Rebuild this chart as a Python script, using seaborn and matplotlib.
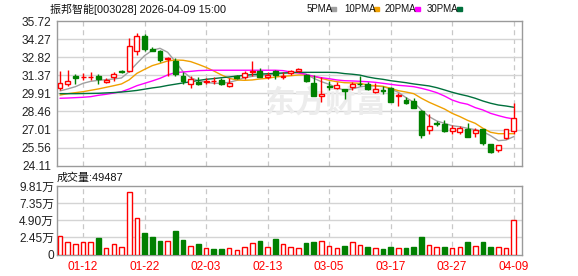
import numpy as np
import pandas as pd
import matplotlib
matplotlib.use("Agg")
import matplotlib.pyplot as plt
import seaborn as sns
from matplotlib.patches import Rectangle

sns.set_style("white")
plt.rcParams["font.family"] = ["Liberation Sans", "Noto Sans CJK SC", "DejaVu Sans"]

# ---------------- data ----------------
title = "振邦智能[003028] 2026-04-09 15:00"
vol_title = "成交量:49487"
date_ticks = [3, 11, 19, 27, 35, 43, 51, 59]
date_labels = ["01-12", "01-22", "02-03", "02-13", "03-05", "03-17", "03-27", "04-09"]
price_ticks = [35.72, 34.27, 32.82, 31.37, 29.91, 28.46, 27.01, 25.56, 24.11]
vol_ticks = [0, 2.45, 4.90, 7.35, 9.81]
vol_tick_labels = ["0", "2.45万", "4.90万", "7.35万", "9.81万"]

opens = [30.37, 30.69, 31.31, 31.22, 31.24, 31.31, 30.85, 31.23, 31.67, 31.74,
         33.29, 34.52, 33.50, 33.31, 32.65, 32.51, 31.31, 30.69, 30.83, 30.85,
         30.90, 30.96, 30.53, 31.28, 31.20, 31.60, 31.71, 31.20, 31.68, 31.23,
         31.55, 31.74, 31.36, 30.75, 29.68, 30.53, 30.35, 30.24, 30.43, 30.69,
         30.64, 30.05, 30.21, 30.35, 29.70, 29.36, 29.28, 28.47, 26.96, 27.52,
         27.44, 26.92, 26.84, 27.03, 26.76, 27.03, 25.83, 25.35, 26.31, 26.86]
closes = [30.77, 30.88, 31.12, 31.24, 31.26, 31.09, 30.96, 31.50, 31.65, 33.71,
          34.49, 33.47, 33.34, 32.62, 32.75, 31.44, 30.91, 31.04, 30.64, 30.93,
          30.90, 30.69, 30.77, 31.17, 31.55, 31.71, 31.25, 31.39, 31.36, 31.31,
          31.73, 31.84, 30.88, 29.73, 29.86, 30.43, 30.59, 30.10, 30.64, 30.66,
          30.27, 30.30, 30.13, 29.25, 29.81, 29.17, 28.77, 26.55, 27.31, 27.42,
          26.86, 27.13, 27.17, 26.44, 26.96, 25.96, 25.24, 25.75, 27.03, 27.91]
highs = [31.71, 31.76, 31.44, 31.58, 31.61, 31.44, 31.17, 31.61, 31.80, 34.33,
         34.76, 34.68, 33.66, 33.42, 32.86, 32.73, 31.66, 31.31, 31.23, 31.17,
         31.23, 31.15, 31.17, 31.39, 31.74, 32.51, 31.95, 31.63, 31.79, 31.61,
         31.79, 31.92, 31.44, 31.39, 31.20, 30.93, 30.85, 30.29, 30.85, 31.33,
         30.85, 30.77, 30.48, 30.43, 29.94, 29.62, 29.57, 28.56, 28.26, 27.68,
         27.79, 27.38, 27.30, 27.56, 27.11, 27.08, 25.88, 25.81, 27.06, 29.14]
lows = [30.19, 30.51, 30.67, 30.99, 30.96, 30.64, 30.77, 30.93, 31.53, 31.66,
        32.99, 33.34, 33.31, 32.43, 31.33, 31.33, 30.64, 30.37, 30.59, 30.67,
        30.69, 30.59, 30.45, 31.04, 31.09, 31.31, 31.20, 31.07, 31.07, 31.07,
        31.39, 31.66, 30.83, 29.70, 29.20, 30.19, 30.27, 29.44, 30.16, 30.53,
        30.16, 29.94, 29.89, 29.23, 28.93, 29.07, 28.72, 26.31, 26.68, 27.28,
        26.81, 26.63, 26.68, 26.41, 26.44, 25.75, 25.16, 25.22, 26.25, 26.63]

# volume in 万 (10k) units, and its colour (True = red/up)
volumes = [2.71, 1.76, 1.47, 1.76, 1.76, 2.33, 0.86, 1.57, 1.14, 8.99,
           5.28, 3.04, 2.47, 1.90, 1.90, 3.33, 2.05, 1.28, 1.47, 1.00,
           0.76, 0.76, 0.86, 0.62, 1.14, 1.71, 1.90, 1.05, 2.19, 1.47,
           1.14, 0.86, 1.62, 1.76, 2.00, 1.28, 1.00, 1.19, 1.76, 1.43,
           1.05, 0.86, 0.76, 1.05, 0.86, 0.90, 1.05, 2.47, 1.43, 1.05,
           1.05, 0.86, 1.14, 1.76, 1.28, 1.76, 1.05, 1.05, 0.86, 4.95]
vol_up = [1, 1, 1, 1, 1, 0, 1, 1, 1, 1, 1, 0, 0, 0, 1, 0, 0, 1, 0, 1,
          0, 0, 1, 1, 1, 1, 0, 1, 0, 1, 1, 1, 0, 0, 1, 1, 1, 0, 1, 1,
          0, 1, 0, 0, 1, 0, 0, 0, 1, 1, 0, 1, 1, 0, 1, 0, 0, 1, 1, 1]

ma5 = [30.11, 30.27, 30.45, 30.72, 30.88, 30.96, 31.01, 31.07, 31.15, 31.66,
       32.32, 32.94, 33.37, 33.53, 33.21, 32.46, 31.66, 31.17, 30.93, 30.80,
       30.72, 30.72, 30.80, 30.96, 31.17, 31.28, 31.36, 31.41, 31.47, 31.52,
       31.58, 31.60, 31.44, 31.12, 30.85, 30.64, 30.37, 30.16, 30.27, 30.43,
       30.51, 30.51, 30.45, 30.27, 30.00, 29.57, 29.20, 28.58, 28.05, 27.70,
       27.51, 27.32, 27.24, 27.11, 27.00, 26.84, 26.52, 26.12, 26.17, 26.44]
ma10 = [29.78, 29.89, 29.97, 30.05, 30.16, 30.27, 30.40, 30.53, 30.67, 31.00,
        31.52, 31.84, 32.14, 32.32, 32.51, 32.59, 32.57, 32.46, 32.24, 32.00,
        31.71, 31.39, 31.12, 30.99, 30.96, 30.99, 31.07, 31.12, 31.23, 31.28,
        31.33, 31.39, 31.39, 31.28, 31.12, 30.96, 30.85, 30.77, 30.75, 30.72,
        30.59, 30.53, 30.48, 30.32, 30.13, 30.02, 29.89, 29.52, 29.20, 28.93,
        28.66, 28.31, 28.05, 27.75, 27.51, 27.11, 26.79, 26.68, 26.68, 26.68]
ma20 = [29.52, 29.54, 29.57, 29.60, 29.65, 29.76, 29.84, 29.94, 30.05, 30.27,
        30.53, 30.72, 30.91, 31.12, 31.39, 31.58, 31.63, 31.68, 31.74, 31.76,
        31.77, 31.77, 31.77, 31.77, 31.77, 31.77, 31.77, 31.77, 31.77, 31.74,
        31.63, 31.55, 31.44, 31.28, 31.17, 31.09, 30.99, 30.93, 30.91, 30.88,
        30.85, 30.80, 30.72, 30.64, 30.56, 30.51, 30.45, 30.32, 30.16, 29.97,
        29.70, 29.38, 29.17, 29.04, 28.77, 28.58, 28.31, 28.13, 27.97, 27.86]
ma30 = [29.89, 29.89, 29.89, 29.90, 29.91, 29.92, 29.95, 29.98, 30.02, 30.08,
        30.15, 30.25, 30.35, 30.43, 30.55, 30.65, 30.75, 30.85, 30.95, 31.04,
        31.10, 31.17, 31.23, 31.30, 31.36, 31.42, 31.46, 31.49, 31.52, 31.55,
        31.57, 31.60, 31.60, 31.60, 31.60, 31.60, 31.58, 31.50, 31.45, 31.38,
        31.23, 31.12, 31.04, 30.93, 30.85, 30.77, 30.67, 30.59, 30.51, 30.37,
        30.19, 30.00, 29.84, 29.70, 29.52, 29.30, 29.12, 28.98, 28.90, 28.80]

ma_names = ["5PMA", "10PMA", "20PMA", "30PMA"]
ma_colors = ["#a0a0a0", "#f0a000", "#ff00ff", "#00703c"]

# ---------------- styling ----------------
RED = "#ff0000"
GREEN = "#008000"
GRID = "#d4d4d4"
FRAME = "#9a9a9a"
W, H = 578, 276

fig = plt.figure(figsize=(W / 100, H / 100), dpi=100)
fig.patch.set_facecolor("white")

def fx(px):
    return px / W

def fy(py):
    return 1 - py / H

ax = fig.add_axes([fx(57), fy(165.7), fx(522) - fx(57), fy(21) - fy(165.7)])
axv = fig.add_axes([fx(57), fy(254.5), fx(522) - fx(57), fy(186) - fy(254.5)])

n = len(closes)
x = np.arange(n)
xlim = (-0.39, 60.08)

for a in (ax, axv):
    a.set_xlim(*xlim)
    for s in a.spines.values():
        s.set_color(FRAME)
        s.set_linewidth(1.0)
    for t in date_ticks:
        a.axvline(t, color="#c8c8c8", lw=0.9, ls=(0, (4, 3)), zorder=0)

# price panel
ax.set_ylim(price_ticks[-1], price_ticks[0])
for v in price_ticks[1:-1]:
    ax.axhline(v, color=GRID, lw=1.0, zorder=0)
ax.set_yticks(price_ticks)
ax.set_yticklabels([f"{v:.2f}" for v in price_ticks], color="#222222", fontsize=8.6)
ax.set_xticks([])
ax.tick_params(axis="y", length=0, pad=4)

# watermark
ax.text(34.5, 29.15, "东方财富", family=["Noto Sans CJK SC"], fontsize=22,
        fontweight="bold", color="#ececec", ha="center", va="center", zorder=0.5,
        style="italic")

# moving averages with seaborn
ma_df = pd.DataFrame({
    "i": np.tile(x, 4),
    "v": np.concatenate([ma5, ma10, ma20, ma30]),
    "ma": np.repeat(ma_names, n),
})
sns.lineplot(data=ma_df, x="i", y="v", hue="ma", hue_order=ma_names,
             palette=ma_colors, ax=ax, legend=False, linewidth=1.0, zorder=4)
ax.set_xlabel("")
ax.set_ylabel("")

# candles
bw = 0.64
for i in range(n):
    o, c, h, l = opens[i], closes[i], highs[i], lows[i]
    up = c >= o
    col = RED if up else GREEN
    ax.vlines(i, l, h, color=col, lw=1.0, zorder=5)
    bot = min(o, c)
    hgt = max(abs(c - o), 0.015)
    ax.bar(i, hgt, bottom=bot, width=bw, facecolor="white" if up else GREEN,
           edgecolor=col, linewidth=1.0, zorder=6)

# volume panel
axv.set_ylim(0, vol_ticks[-1])
for v in vol_ticks[1:-1]:
    axv.axhline(v, color=GRID, lw=1.0, zorder=0)
for i in range(n):
    up = bool(vol_up[i])
    axv.bar(i, volumes[i], width=0.6, facecolor="white" if up else GREEN,
            edgecolor=RED if up else GREEN, linewidth=1.0, zorder=3)
axv.set_yticks(vol_ticks)
axv.set_yticklabels(vol_tick_labels, color="#222222", fontsize=8.6)
axv.set_xticks(date_ticks)
axv.set_xticklabels(date_labels, color=RED, fontsize=8.6)
axv.tick_params(axis="y", length=0, pad=2)
axv.tick_params(axis="x", length=0, pad=5)

# texts
fig.text(fx(50), fy(9), title, fontsize=7.9, va="center", ha="left", color="#111111")
fig.text(fx(57), fy(178), vol_title, fontsize=7.9, va="center", ha="left", color="#111111")

leg_x = [307, 344, 385, 427]
sq_x = [331, 374, 415, 457]
for name, col, tx, sx in zip(ma_names, ma_colors, leg_x, sq_x):
    fig.text(fx(tx), fy(9), name, fontsize=7.0, va="center", ha="left",
             color="#111111", family=["Liberation Sans Narrow", "Liberation Sans"])
    fig.patches.append(Rectangle((fx(sx), fy(11)), fx(5), 4 / H, color=col,
                                 transform=fig.transFigure, figure=fig))

fig.savefig("out.png", dpi=100, facecolor="white")
